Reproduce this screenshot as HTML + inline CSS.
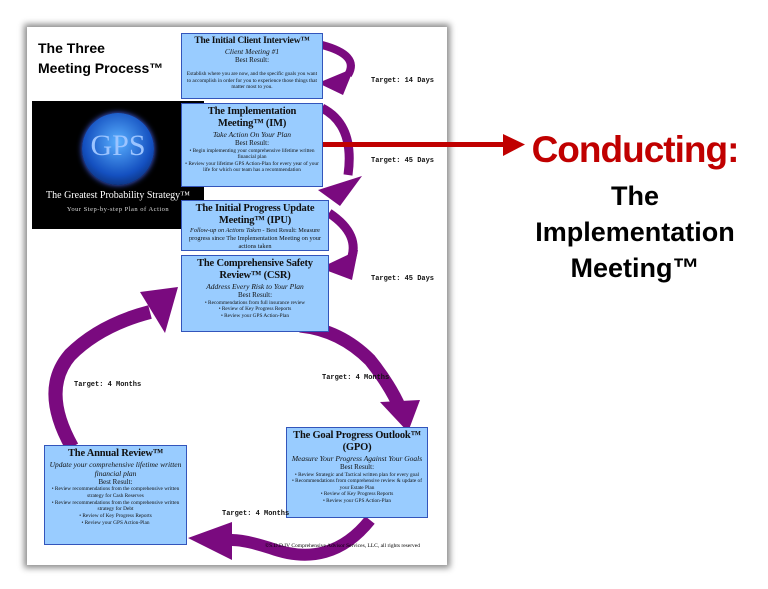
<!DOCTYPE html>
<html><head><meta charset="utf-8"><style>
body{margin:0;width:768px;height:589px;background:#fff;position:relative;overflow:hidden;font-family:"Liberation Serif",serif}
.page{position:absolute;left:27px;top:27px;width:420px;height:538px;background:#fff;box-shadow:0 0 6px 3px rgba(0,0,0,.45)}
.box{position:absolute;background:#99ccff;border:1.5px solid #3355bb;text-align:center;font-size:5.3px;line-height:1.25;color:#111;box-sizing:border-box;padding:2px 3px;overflow:hidden}
.box h{display:block;font-weight:bold;font-size:10.5px;line-height:1.15;letter-spacing:-.2px}
.box i{display:block;font-size:7.5px;line-height:1.2}
.box b{display:block;font-weight:normal;font-size:7px;line-height:1.2}
.t{position:absolute;font-family:"Liberation Mono",monospace;font-weight:bold;font-size:7px;color:#111}
.r{position:absolute;font-family:"Liberation Sans",sans-serif;font-weight:bold;text-align:center}
</style></head><body>
<div class="page"></div>
<svg width="768" height="589" style="position:absolute;left:0;top:0">
<g fill="none" stroke="#7a0a7f">
<path d="M322 45 Q360 55 348 75" stroke-width="8"/>
<path d="M322 108 Q355 125 348 175" stroke-width="9"/>
<path d="M329 213 Q362 235 350 262" stroke-width="9"/>
<path d="M300 326 Q340 330 370 360 Q390 385 400 408" stroke-width="13"/>
<path d="M370 520 Q330 570 270 548 Q245 540 232 540" stroke-width="12"/>
<path d="M72 447 Q40 390 70 355 Q100 325 150 312" stroke-width="14"/>
</g>
<g fill="#7a0a7f">
<polygon points="318,83 354,68 343,95"/>
<polygon points="318,190 362,176 340,206"/>
<polygon points="320,268 358,250 352,280"/>
<polygon points="380,402 420,400 408,432"/>
<polygon points="188,538 232,522 232,560"/>
<polygon points="140,292 178,287 165,333"/>
</g>
<rect x="315" y="142" width="190" height="5" fill="#c00000"/>
<polygon points="503,134 525,144.5 503,156" fill="#c00000"/>
</svg>
<div class="r" style="left:38px;top:38px;font-size:14px;text-align:left;line-height:20px">The Three<br>Meeting Process™</div>
<div style="position:absolute;left:32px;top:101px;width:172px;height:128px;background:#000">
<div style="position:absolute;left:50px;top:12px;width:72px;height:72px;border-radius:50%;background:radial-gradient(circle at 50% 40%,#5ab0ff,#1450c0 60%,#05153a);box-shadow:0 0 6px #4a6aff"></div>
<div style="position:absolute;left:0;top:28px;width:172px;text-align:center;color:#9cc4ff;font-size:30px">GPS</div>
<div style="position:absolute;left:0;top:89px;width:172px;text-align:center;color:#fff;font-size:10px">The Greatest Probability Strategy™</div>
<div style="position:absolute;left:0;top:105px;width:172px;text-align:center;color:#ddd;font-size:6.5px;letter-spacing:.5px">Your Step-by-step Plan of Action</div>
</div>
<div class="box" style="left:181px;top:33px;width:142px;height:66px"><h style="font-size:9.5px">The Initial Client Interview™</h><i>Client Meeting #1</i><b>Best Result:</b><br>Establish where you are now, and the specific goals you want to accomplish in order for you to experience those things that matter most to you.</div>
<div class="box" style="left:181px;top:103px;width:142px;height:84px"><h>The Implementation Meeting™ (IM)</h><i>Take Action On Your Plan</i><b>Best Result:</b>• Begin implementing your comprehensive lifetime written financial plan<br>• Review your lifetime GPS Action-Plan for every year of your life for which our team has a recommendation</div>
<div class="box" style="left:181px;top:200px;width:148px;height:51px"><h>The Initial Progress Update Meeting™ (IPU)</h><span style="font-size:6.3px"><i style="display:inline;font-size:6.3px">Follow-up on Actions Taken</i> - Best Result: Measure progress since The Implementation Meeting on your actions taken</span></div>
<div class="box" style="left:181px;top:255px;width:148px;height:77px"><h>The Comprehensive Safety Review™ (CSR)</h><i>Address Every Risk to Your Plan</i><b>Best Result:</b>• Recommendations from full insurance review<br>• Review of Key Progress Reports<br>• Review your GPS Action-Plan</div>
<div class="box" style="left:44px;top:445px;width:143px;height:100px"><h>The Annual Review™</h><i>Update your comprehensive lifetime written financial plan</i><b>Best Result:</b>• Review recommendations from the comprehensive written strategy for Cash Reserves<br>• Review recommendations from the comprehensive written strategy for Debt<br>• Review of Key Progress Reports<br>• Review your GPS Action-Plan</div>
<div class="box" style="left:286px;top:427px;width:142px;height:91px"><h>The Goal Progress Outlook™ (GPO)</h><i>Measure Your Progress Against Your Goals</i><b>Best Result:</b>• Review Strategic and Tactical written plan for every goal<br>• Recommendations from comprehensive review &amp; update of your Estate Plan<br>• Review of Key Progress Reports<br>• Review your GPS Action-Plan</div>
<div class="t" style="left:371px;top:77px">Target: 14 Days</div>
<div class="t" style="left:371px;top:157px">Target: 45 Days</div>
<div class="t" style="left:371px;top:275px">Target: 45 Days</div>
<div class="t" style="left:322px;top:374px">Target: 4 Months</div>
<div class="t" style="left:74px;top:381px">Target: 4 Months</div>
<div class="t" style="left:222px;top:510px">Target: 4 Months</div>
<div style="position:absolute;left:265px;top:543px;font-size:5.5px">©S.D.D.IV Comprehensive Advisor Services, LLC, all rights reserved</div>
<div class="r" style="left:520px;top:129px;width:230px;font-size:37px;color:#c00000;letter-spacing:-1px">Conducting:</div>
<div class="r" style="left:515px;top:178px;width:240px;font-size:27px;line-height:36px;color:#000">The<br>Implementation<br>Meeting™</div>
</body></html>
